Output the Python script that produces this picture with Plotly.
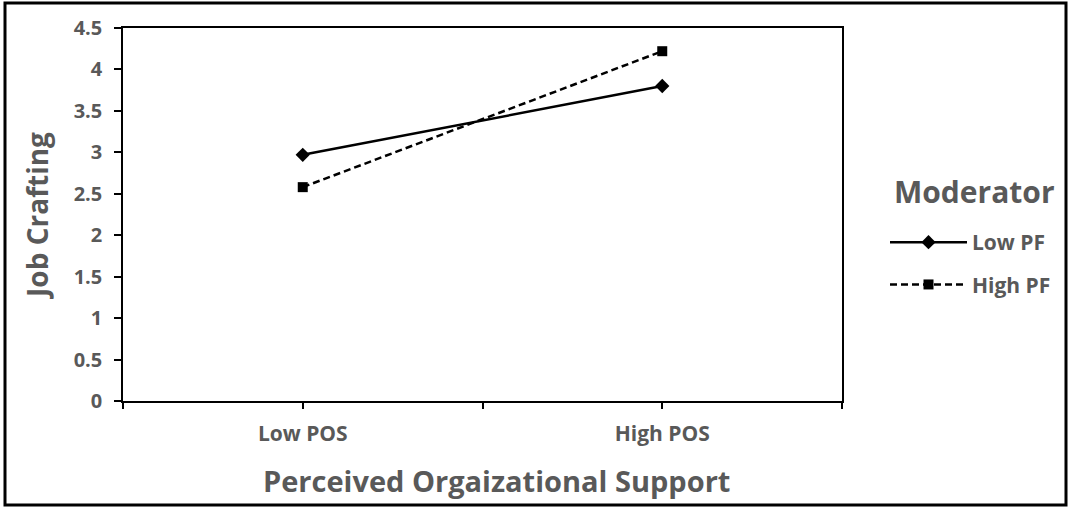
import plotly.graph_objects as go

categories = ["Low POS", "High POS"]
cat_pos = [0, 1]
low_pf = [2.97, 3.80]
high_pf = [2.58, 4.22]
series_names = ["Low PF", "High PF"]
y_ticks = [0, 0.5, 1, 1.5, 2, 2.5, 3, 3.5, 4, 4.5]
legend_title = "Moderator"

W, H = 1071, 508
L, R, T, B = 123, 229, 28, 107
PW, PH = W - L - R, H - T - B


def px(x):
    return (x - L) / PW


def py(y):
    return (H - B - y) / PH


GRAY = "#595959"
FAM = "Open Sans"

fig = go.Figure()
fig.add_trace(go.Scatter(
    x=cat_pos, y=low_pf, name=series_names[0], mode="lines+markers",
    line=dict(color="black", width=2.5),
    marker=dict(symbol="diamond", size=11, color="black"),
    legendgroup="a"))
fig.add_trace(go.Scatter(
    x=cat_pos, y=high_pf, name=series_names[1], mode="lines+markers",
    line=dict(color="black", width=2.5, dash="7px,4px"),
    marker=dict(symbol="square", size=10, color="black"),
    legendgroup="b"))

fig.update_layout(
    width=W, height=H, autosize=False,
    margin=dict(l=L, r=R, t=T, b=B, pad=0),
    paper_bgcolor="white", plot_bgcolor="white",
    font=dict(family=FAM, color=GRAY),
    xaxis=dict(
        range=[-0.5, 1.5],
        tickvals=[-0.5, 0, 0.5, 1, 1.5],
        ticktext=["", categories[0], "", categories[1], ""],
        ticks="outside", ticklen=6, tickcolor="black", tickwidth=1.5,
        ticklabelstandoff=7,
        showline=True, linecolor="black", linewidth=1.5, mirror=True,
        showgrid=False, zeroline=False,
        tickfont=dict(family=FAM, size=21, color=GRAY, weight="bold"),
    ),
    yaxis=dict(
        range=[0, 4.5], tickvals=y_ticks,
        ticktext=[f"{v:g}" for v in y_ticks],
        ticks="outside", ticklen=7, tickcolor="black", tickwidth=1.5,
        ticklabelstandoff=8,
        showline=True, linecolor="black", linewidth=1.5, mirror=True,
        showgrid=False, zeroline=False,
        tickfont=dict(family=FAM, size=20, color=GRAY, weight="bold"),
        title=dict(text="Job Crafting",
                   font=dict(family=FAM, size=28, color=GRAY, weight="bold"),
                   standoff=17),
    ),
    legend=dict(
        x=px(885), xanchor="left", y=py(222), yanchor="top",
        font=dict(family=FAM, size=21, color=GRAY, weight="bold"),
        itemwidth=77,
        tracegroupgap=12, bgcolor="rgba(0,0,0,0)",
    ),
    showlegend=True,
    annotations=[
        dict(text=legend_title, xref="paper", yref="paper",
             x=px(974), y=py(192), xanchor="center", yanchor="middle",
             showarrow=False,
             font=dict(family=FAM, size=30, color=GRAY, weight="bold")),
        dict(text="Perceived Orgaizational Support", xref="paper", yref="paper",
             x=px(496), y=py(481), xanchor="center", yanchor="middle",
             showarrow=False,
             font=dict(family=FAM, size=29, color=GRAY, weight="bold")),
    ],
    shapes=[dict(type="rect", xref="paper", yref="paper",
                 x0=px(5), x1=px(1066), y0=py(505), y1=py(3),
                 line=dict(color="black", width=3), fillcolor="rgba(0,0,0,0)",
                 layer="above")],
)

fig.write_html("out.html", config={"displayModeBar": False},
               post_script="document.body.style.margin='0';document.body.style.overflow='hidden';")
